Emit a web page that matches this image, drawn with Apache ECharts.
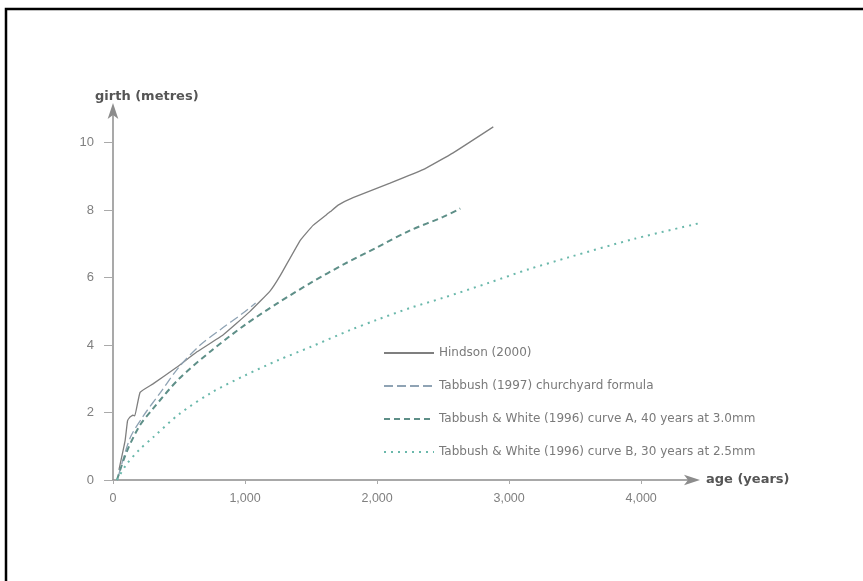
<!DOCTYPE html>
<html>
<head>
<meta charset="utf-8">
<script src="https://cdn.jsdelivr.net/npm/echarts@6/dist/echarts.min.js"></script>
<style>
html,body{margin:0;padding:0;background:#fff;}
#chart{width:863px;height:581px;}
</style>
</head>
<body>
<div id="chart"></div>
<script>
// ---- data (age in years, girth in metres) ----
var seriesNames = [
  'Hindson (2000)',
  'Tabbush (1997) churchyard formula',
  'Tabbush & White (1996) curve A, 40 years at 3.0mm',
  'Tabbush & White (1996) curve B, 30 years at 2.5mm'
];
var hindson = [[45,0.3],[91,1.15],[110,1.75],[125,1.85],[150,1.92],[165,1.9],[205,2.6],[303,2.85],[485,3.35],[636,3.8],[833,4.3],[1038,5.0],[1189,5.6],[1265,6.05],[1417,7.1],[1515,7.55],[1644,7.95],[1705,8.15],[1818,8.37],[2098,8.8],[2348,9.2],[2576,9.7],[2880,10.47]];
var tabbush1997 = [[40,0.1],[130,1.25],[230,1.9],[360,2.6],[500,3.35],[660,4.0],[810,4.45],[985,4.95],[1080,5.25]];
var curveA = [[30,0],[100,0.8],[200,1.6],[300,2.1],[500,3.0],[750,3.85],[1000,4.6],[1250,5.25],[1500,5.85],[1750,6.4],[2000,6.9],[2250,7.4],[2500,7.8],[2630,8.05]];
var curveB = [[30,0],[100,0.45],[200,0.9],[300,1.25],[500,1.95],[750,2.6],[1000,3.1],[1250,3.55],[1500,3.95],[1800,4.45],[2000,4.75],[2250,5.1],[2500,5.4],[2850,5.85],[3150,6.25],[3450,6.6],[3950,7.15],[4450,7.62]];
var yTicks = [0,2,4,6,8,10];
var xTicks = [0,1000,2000,3000,4000];

var chart = echarts.init(document.getElementById('chart'), null, {renderer:'canvas'});
var font = 'Liberation Sans, Arial, sans-serif';
var boldFont = 'DejaVu Sans, sans-serif';
var option = {
  backgroundColor:'#fff',
  animation:false,
  graphic:[{
    type:'rect', shape:{x:6,y:9,width:900,height:700},
    style:{fill:'none', stroke:'#000', lineWidth:2.5}, silent:true
  }],
  grid:[
    {left:113, top:109, width:581, height:371, containLabel:false},
    // same scale (132 px per 1000 years), slightly wider so curve B can run past the arrow
    {left:113, top:109, width:594, height:371, containLabel:false}
  ],
  legend:{
    orient:'vertical', left:378, top:342, itemWidth:50, itemHeight:14, itemGap:21,
    textStyle:{color:'#7a7a7a', fontSize:12, fontFamily:'DejaVu Sans, sans-serif'},
    itemStyle:{opacity:0, borderWidth:0},
    data:seriesNames
  },
  xAxis:[{
    gridIndex:0, type:'value', min:0, max:4400, interval:1000,
    name:'age (years)', nameLocation:'end', nameGap:12,
    nameTextStyle:{color:'#555', fontSize:13, fontWeight:'bold', fontFamily:boldFont},
    axisLine:{show:true, lineStyle:{color:'#8c8c8c', width:1.5}, symbol:['none','arrow'], symbolSize:[8,16], symbolOffset:[0,6]},
    axisTick:{show:true, length:4, lineStyle:{color:'#aaa'}, customValues:xTicks},
    axisLabel:{color:'#808080', fontSize:12.5, fontFamily:font, margin:12, customValues:xTicks,
      formatter:function(v){ return v.toLocaleString('en-US'); }},
    splitLine:{show:false}
  },{
    gridIndex:1, type:'value', min:0, max:4500, show:false
  }],
  yAxis:[{
    gridIndex:0, type:'value', min:0, max:11, interval:2,
    name:'girth (metres)', nameLocation:'end', nameGap:6,
    nameTextStyle:{color:'#555', fontSize:13, fontWeight:'bold', fontFamily:boldFont, align:'left', padding:[0,0,0,-18]},
    axisLine:{show:true, lineStyle:{color:'#8c8c8c', width:1.5}, symbol:['none','arrow'], symbolSize:[8,16], symbolOffset:[0,6]},
    axisTick:{show:true, length:9, lineStyle:{color:'#aaa'}, customValues:yTicks},
    axisLabel:{color:'#808080', fontSize:13, fontFamily:font, margin:19, customValues:yTicks,
      formatter:function(v){ return String(v); }},
    splitLine:{show:false}
  },{
    gridIndex:1, type:'value', min:0, max:11, show:false
  }],
  series:[
    {name:seriesNames[0], type:'line', data:hindson, symbol:'none', smooth:0.1,
     lineStyle:{color:'#7f7f7f', width:1.3}, itemStyle:{color:'#7f7f7f'}},
    {name:seriesNames[1], type:'line', data:tabbush1997, symbol:'none', smooth:0.3,
     lineStyle:{color:'#8fa3b4', width:1.3, type:[9,4]}, itemStyle:{color:'#8fa3b4'}},
    {name:seriesNames[2], type:'line', data:curveA, symbol:'none', smooth:0.3,
     lineStyle:{color:'#5e8f88', width:2, type:[6,4]}, itemStyle:{color:'#5e8f88'}},
    {name:seriesNames[3], type:'line', xAxisIndex:1, yAxisIndex:1, data:curveB, symbol:'none', smooth:0.3,
     lineStyle:{color:'#6ab8ab', width:2, type:[2,5]}, itemStyle:{color:'#6ab8ab'}}
  ]
};
chart.setOption(option);
</script>
</body>
</html>
